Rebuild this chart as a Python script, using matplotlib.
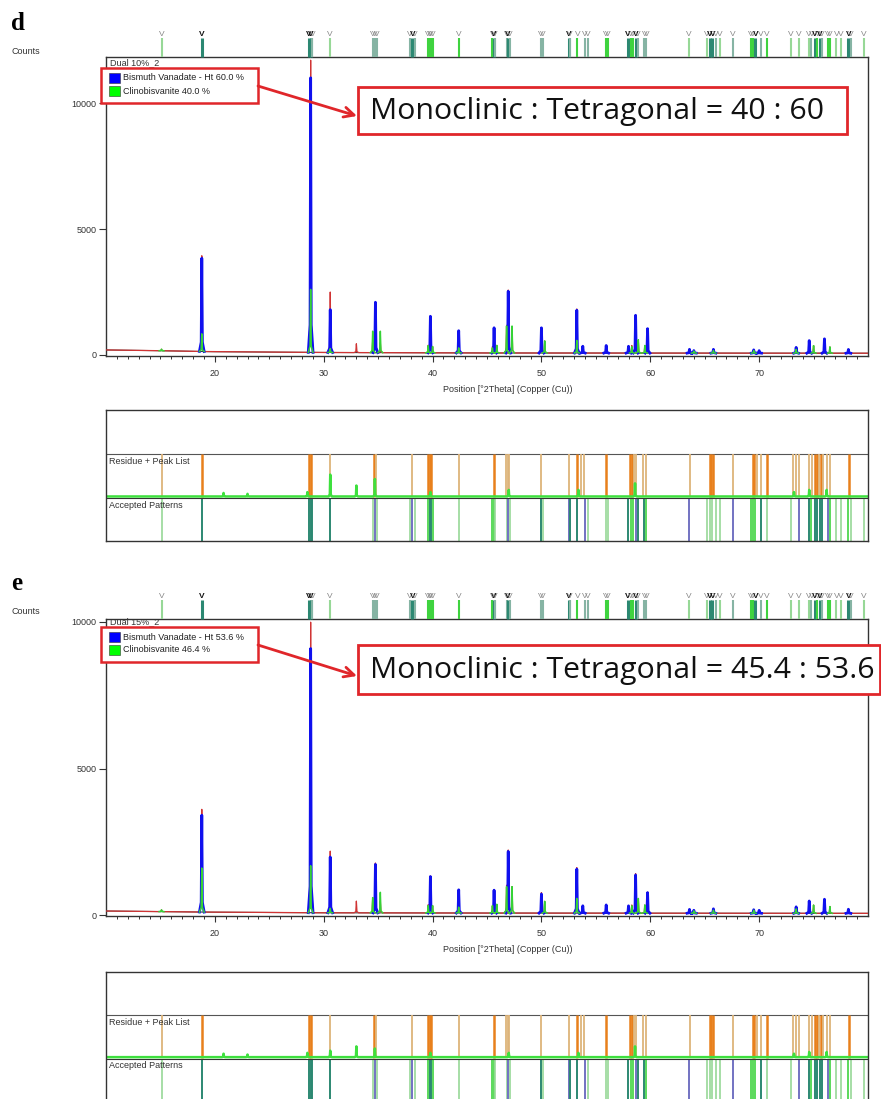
import numpy as np
import matplotlib
matplotlib.use("Agg")
import matplotlib.pyplot as plt
from matplotlib.patches import Rectangle, FancyArrowPatch

W, H = 881, 1099

# ---------------- data ----------------
peak_pos = [15.1, 18.8, 28.8, 30.6, 33.0, 34.5, 34.75, 35.2, 39.6, 39.8, 40.0, 42.4,
            45.5, 45.65, 45.9, 46.8, 46.95, 47.3, 50.0, 50.3, 53.25, 53.8, 55.95,
            58.0, 58.3, 58.65, 58.9, 59.5, 59.75, 63.6, 64.0, 65.8, 69.5, 70.0,
            73.4, 74.6, 75.0, 76.0, 76.5, 78.2]

obs_d = [60, 3800, 11600, 2400, 350, 500, 2000, 400, 300, 1450, 250, 880,
         250, 1000, 300, 1100, 2500, 1050, 1000, 480, 1750, 270, 300,
         280, 300, 1500, 500, 300, 970, 150, 100, 150, 130, 100,
         230, 500, 300, 570, 250, 150]
tet_d = [0, 3700, 10900, 1700, 0, 0, 2000, 0, 0, 1450, 0, 880,
         0, 1000, 0, 0, 2450, 0, 1000, 0, 1700, 270, 300,
         270, 0, 1500, 0, 0, 970, 150, 100, 150, 130, 100,
         230, 500, 0, 570, 0, 150]
mono_d = [60, 700, 2500, 150, 0, 850, 0, 850, 280, 0, 250, 200,
          200, 0, 300, 1070, 0, 1070, 0, 480, 500, 0, 0,
          0, 250, 0, 530, 300, 0, 0, 80, 100, 100, 0,
          150, 0, 300, 0, 250, 0]

obs_e = [60, 3500, 9900, 2100, 400, 520, 1700, 400, 280, 1260, 250, 800,
         250, 800, 280, 950, 2150, 900, 700, 400, 1550, 250, 280,
         250, 280, 1350, 500, 280, 720, 130, 100, 150, 120, 100,
         220, 420, 280, 480, 230, 140]
tet_e = [0, 3300, 9000, 1900, 0, 0, 1650, 0, 0, 1240, 0, 790,
         0, 780, 0, 0, 2100, 0, 650, 0, 1500, 250, 280,
         250, 0, 1300, 0, 0, 700, 130, 100, 150, 120, 100,
         220, 420, 0, 480, 0, 140]
mono_e = [60, 1500, 1600, 150, 0, 520, 0, 700, 250, 0, 250, 200,
          250, 0, 300, 900, 0, 900, 0, 400, 500, 0, 0,
          0, 250, 0, 500, 280, 0, 0, 80, 100, 100, 0,
          150, 0, 280, 0, 230, 0]

bg_pos = [10, 15, 20, 30, 45, 80]
bg_d = [200, 170, 130, 100, 80, 70]
bg_e = [150, 130, 110, 90, 80, 70]

# reference pattern lines (markers on top + accepted patterns)
ref_pos = [15.15, 18.78, 28.65, 28.8, 28.95, 30.58, 34.5, 34.68, 34.85, 37.9,
           38.15, 38.4, 39.55, 39.72, 39.88, 40.02, 42.45, 45.5, 45.6, 45.75,
           46.8, 46.92, 47.1, 49.95, 50.1, 52.5, 52.65, 53.3, 54.0, 54.3,
           55.9, 56.1, 57.95, 58.2, 58.4, 58.65, 58.85, 59.45, 59.65, 63.55,
           65.2, 65.45, 65.7, 66.0, 66.4, 67.56, 69.25, 69.45, 69.65, 70.15,
           70.7, 72.9, 73.65, 74.6, 74.8, 75.15, 75.35, 75.55, 75.8, 76.3,
           76.5, 77.1, 77.5, 78.2, 78.45, 79.6]
ref_mark = ['L', 'T', 'T', 'T', 'S', 'L', 'S', 'S', 'S', 'S',
            'T', 'S', 'G', 'G', 'G', 'G', 'G', 'G', 'T', 'S',
            'S', 'T', 'S', 'S', 'S', 'T', 'S', 'G', 'S', 'S',
            'G', 'G', 'T', 'G', 'G', 'T', 'S', 'S', 'S', 'L',
            'L', 'T', 'T', 'S', 'L', 'S', 'G', 'G', 'T', 'S',
            'G', 'L', 'L', 'L', 'S', 'T', 'G', 'T', 'S', 'G',
            'G', 'L', 'L', 'T', 'S', 'L']
ref_acc = ['L', 'T', 'T', 'T', 'T', 'T', 'L', 'P', 'L', 'L',
           'P', 'L', 'G', 'T', 'T', 'G', 'L', 'G', 'G', 'L',
           'L', 'P', 'L', 'T', 'L', 'P', 'T', 'T', 'P', 'L',
           'L', 'L', 'T', 'G', 'G', 'P', 'T', 'T', 'G', 'P',
           'L', 'L', 'L', 'L', 'L', 'P', 'G', 'G', 'G', 'T',
           'L', 'L', 'P', 'T', 'G', 'T', 'T', 'T', 'T', 'P',
           'G', 'L', 'L', 'G', 'L', 'L']

# peak list (orange lines in residue panel); 1 = strong
pk_pos = [15.15, 18.78, 28.65, 28.8, 30.6, 34.6, 34.8, 38.15, 39.6, 39.75,
          39.9, 42.45, 45.67, 46.75, 46.95, 47.05, 49.96, 52.5, 53.3, 53.6,
          53.9, 55.97, 58.1, 58.3, 58.5, 58.7, 59.3, 59.6, 63.67, 65.45,
          65.6, 65.8, 67.56, 69.4, 69.55, 69.8, 70.2, 70.7, 73.1, 73.4,
          73.7, 74.6, 74.9, 75.1, 75.3, 75.5, 75.7, 75.9, 76.2, 76.5, 78.3]
pk_strong = [0, 1, 1, 1, 0, 1, 0, 0, 1, 1,
             1, 0, 1, 0, 0, 0, 0, 0, 1, 0,
             0, 1, 1, 1, 0, 0, 0, 0, 0, 1,
             1, 1, 0, 1, 1, 0, 0, 1, 0, 0,
             0, 0, 0, 1, 1, 0, 1, 0, 0, 0, 1]

res_pos = [20.8, 23.0, 28.5, 30.6, 33.0, 34.7, 39.8, 47.0, 53.4, 58.6, 73.2, 74.6, 76.2]
res_d = [0.08, 0.06, 0.10, 0.50, 0.25, 0.40, 0.10, 0.15, 0.15, 0.30, 0.10, 0.15, 0.15]
res_e = [0.08, 0.06, 0.10, 0.15, 0.25, 0.20, 0.10, 0.10, 0.10, 0.25, 0.08, 0.12, 0.12]

x_ticks = [20, 30, 40, 50, 60, 70]
y_ticks = [0, 5000, 10000]

# ---------------- styling ----------------
COL = {'L': '#97d897', 'T': '#2c8872', 'G': '#3fd33f', 'S': '#86b4a4', 'P': '#7272c2'}
SANS = 'Liberation Sans'
RED = '#e0262a'

fig = plt.figure(figsize=(W / 100, H / 100), dpi=100)


def fx(px):
    return px / W


def fy(py):
    return 1 - py / H


def rect(l, t, r, b):
    return [fx(l), fy(b), fx(r) - fx(l), fy(t) - fy(b)]


def spikes(pos, hts, bx, by, foot, joined):
    xs, ys = [], []
    if joined:
        xs.append(10.0)
        ys.append(np.interp(10.0, bx, by))
    for p, h in zip(pos, hts):
        if h <= 0:
            continue
        px = [p - foot, p - foot * 0.25, p, p + foot * 0.25, p + foot]
        b = np.interp(px, bx, by)
        xs += px
        ys += [b[0], b[1] + 0.1 * h, b[2] + h, b[3] + 0.1 * h, b[4]]
        if not joined:
            xs.append(np.nan)
            ys.append(np.nan)
    if joined:
        xs.append(80.0)
        ys.append(np.interp(80.0, bx, by))
    return xs, ys


def draw_main(box, ylim, obs, tet, mono, bg, top_h):
    ax = fig.add_axes(rect(*box))
    ax.set_xlim(10, 80)
    ax.set_ylim(*ylim)
    for s in ax.spines.values():
        s.set_color('#333333')
        s.set_linewidth(1.0)
    ax.plot(bg_pos, bg, color='#3a3a3a', lw=0.8, zorder=2)
    bx, by = spikes(peak_pos, obs, bg_pos, bg, 0.22, True)
    ax.plot(bx, by, color='#d03434', lw=0.9, zorder=3)
    tx, ty = spikes(peak_pos, tet, bg_pos, bg, 0.22, False)
    ax.plot(tx, ty, color='#1010ee', lw=2.0, zorder=4)
    mx, my = spikes(peak_pos, mono, bg_pos, bg, 0.22, False)
    ax.plot(mx, my, color='#36d236', lw=1.1, zorder=5)

    ax.set_xticks(x_ticks)
    ax.set_xticks(np.arange(11, 80, 1), minor=True)
    ax.set_yticks(y_ticks)
    ax.tick_params(axis='x', which='major', direction='out', length=4, width=0.8,
                   color='#333333', labelsize=6.5, labelcolor='#333333', pad=5)
    ax.tick_params(axis='x', which='minor', direction='out', length=2.5, width=0.7,
                   color='#333333')
    ax.tick_params(axis='y', which='major', direction='out', length=5, width=0.8,
                   color='#333333', labelsize=6.5, labelcolor='#333333', pad=2)
    for lab in ax.get_xticklabels() + ax.get_yticklabels():
        lab.set_family(SANS)

    # reference markers above the plot: one line and one "V" per reference peak
    dy = 19.0 / top_h
    trans = ax.get_xaxis_transform()
    for p, c in zip(ref_pos, ref_mark):
        dark = c == 'T'
        ax.plot([p, p], [1.0, 1.0 + dy], color=COL[c], lw=2.2 if dark else 1.5,
                transform=trans, clip_on=False, zorder=6, solid_capstyle='butt')
        ax.text(p, 1.0 + dy, 'V', transform=trans, ha='center', va='bottom',
                fontsize=6, family=SANS, color='#111111' if dark else '#888888',
                fontweight='bold' if dark else 'normal', clip_on=False)
    return ax


def draw_resid(box, res):
    ax = fig.add_axes(rect(*box))
    ax.set_xlim(10, 80)
    ax.set_ylim(0, 3)
    for s in ax.spines.values():
        s.set_color('#333333')
        s.set_linewidth(1.0)
    ax.set_xticks([])
    ax.set_yticks([])
    ax.axhline(2, color='#555555', lw=0.8)
    for p, s in zip(pk_pos, pk_strong):
        ax.plot([p, p], [1.0, 2.0], color='#e8801c' if s else '#ddb47a',
                lw=1.8 if s else 1.3, solid_capstyle='butt')
    for p, c in zip(ref_pos, ref_acc):
        ax.plot([p, p], [0.0, 0.98], color=COL[c], lw=1.4 if c in 'TP' else 1.2,
                solid_capstyle='butt')
    ax.axhline(0.98, color='#333333', lw=0.8)
    rx, ry = spikes(res_pos, res, [10, 80], [1.02, 1.02], 0.15, True)
    ax.plot(rx, ry, color='#3ee03e', lw=1.8)
    ax.text(10.3, 1.93, 'Residue + Peak List', fontsize=6.5, family=SANS,
            color='#333333', va='top', ha='left')
    ax.text(10.3, 0.92, 'Accepted Patterns', fontsize=6.5, family=SANS,
            color='#333333', va='top', ha='left')
    return ax


def annotate(letter, ly, counts_y, leg_box, dual, p_tet, p_mono, arrow, big_box, big_text):
    fig.text(fx(11), fy(ly), letter, fontsize=18, fontweight='bold',
             family='Liberation Serif', ha='left', va='center')
    fig.text(fx(12), fy(counts_y), 'Counts', fontsize=6.5, family=SANS,
             color='#333333', ha='left', va='center')
    l, t, r, b = leg_box
    fig.text(fx(110), fy(t - 5), dual, fontsize=6.5, family=SANS, color='#333333',
             ha='left', va='center')
    fig.add_artist(Rectangle((fx(l), fy(b)), fx(r) - fx(l), fy(t) - fy(b),
                             transform=fig.transFigure, facecolor='white',
                             edgecolor=RED, lw=1.8, zorder=5))
    for i, (txt, c) in enumerate([('Bismuth Vanadate - Ht %s %%' % p_tet, '#0000ff'),
                                  ('Clinobisvanite %s %%' % p_mono, '#00ff00')]):
        cy = t + 10 + i * 13
        fig.add_artist(Rectangle((fx(109), fy(cy + 5)), fx(120) - fx(109),
                                 fy(cy - 5) - fy(cy + 5), transform=fig.transFigure,
                                 facecolor=c, edgecolor='#333333', lw=0.4, zorder=6))
        fig.text(fx(123), fy(cy), txt, fontsize=6.5, family=SANS, color='#222222',
                 ha='left', va='center', zorder=7)
    (x0, y0), (x1, y1) = arrow
    fig.add_artist(FancyArrowPatch((fx(x0), fy(y0)), (fx(x1), fy(y1)),
                                   transform=fig.transFigure, arrowstyle='->',
                                   mutation_scale=18, color=RED, lw=2.0,
                                   shrinkA=0, shrinkB=0, zorder=5))
    l, t, r, b = big_box
    fig.add_artist(Rectangle((fx(l), fy(b)), fx(r) - fx(l), fy(t) - fy(b),
                             transform=fig.transFigure, facecolor='white',
                             edgecolor=RED, lw=2.0, zorder=5))
    fig.text(fx(370), fy((t + b) / 2 + 1), big_text, fontsize=21.8,
             family='Open Sans', color='#111111', ha='left', va='center',
             zorder=7)


# ---------------- panel d ----------------
ax_d = draw_main((106, 57, 868, 356), (-40, 11830), obs_d, tet_d, mono_d, bg_d, 299)
draw_resid((106, 410, 868, 541), res_d)
fig.text(fx(508), fy(389), 'Position [°2Theta] (Copper (Cu))', fontsize=6.5,
         family=SANS, color='#333333', ha='center', va='center')
annotate('d', 23, 51, (101, 68, 258, 103), 'Dual 10%_2', '60.0', '40.0',
         ((258, 86), (357, 116)), (358, 87, 847, 134),
         'Monoclinic : Tetragonal = 40 : 60')

# ---------------- panel e ----------------
ax_e = draw_main((106, 619, 868, 916), (-20, 10100), obs_e, tet_e, mono_e, bg_e, 297)
draw_resid((106, 972, 868, 1101), res_e)
fig.text(fx(508), fy(949), 'Position [°2Theta] (Copper (Cu))', fontsize=6.5,
         family=SANS, color='#333333', ha='center', va='center')
annotate('e', 584, 611, (101, 627, 258, 662), 'Dual 15%_2', '53.6', '46.4',
         ((258, 645), (357, 676)), (358, 645, 880, 694),
         'Monoclinic : Tetragonal = 45.4 : 53.6')

fig.savefig('out.png', dpi=100, facecolor='white')
